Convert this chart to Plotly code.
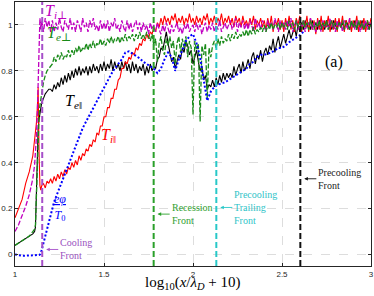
import plotly.graph_objects as go

# shared sampling grid of log10(x/lambda_D + 10) for the noisy temperature curves
x_grid = [1.00, 1.02, 1.04, 1.06, 1.08, 1.10, 1.11, 1.115, 1.12, 1.125, 1.13, 1.135, 1.14, 1.145, 1.15, 1.16, 1.17, 1.18, 1.19, 1.20,
          1.21, 1.22, 1.23, 1.24, 1.25, 1.26, 1.27, 1.28, 1.29, 1.30,
          1.31, 1.32, 1.33, 1.34, 1.35, 1.36, 1.37, 1.38, 1.39, 1.40,
          1.41, 1.42, 1.43, 1.44, 1.45, 1.46, 1.47, 1.48, 1.49, 1.50,
          1.51, 1.52, 1.53, 1.54, 1.55, 1.56, 1.57, 1.58, 1.59, 1.60,
          1.61, 1.62, 1.63, 1.64, 1.65, 1.66, 1.67, 1.68, 1.69, 1.70,
          1.71, 1.72, 1.73, 1.74, 1.75, 1.76, 1.77, 1.78, 1.79, 1.80,
          1.81, 1.82, 1.83, 1.84, 1.85, 1.86, 1.87, 1.88, 1.89, 1.90,
          1.91, 1.92, 1.93, 1.94, 1.95, 1.96, 1.97, 1.98, 1.99, 2.00,
          2.01, 2.02, 2.03, 2.04, 2.05, 2.06, 2.07, 2.08, 2.09, 2.10,
          2.11, 2.12, 2.13, 2.14, 2.15, 2.16, 2.17, 2.18, 2.19, 2.20,
          2.21, 2.22, 2.23, 2.24, 2.25, 2.26, 2.27, 2.28, 2.29, 2.30,
          2.31, 2.32, 2.33, 2.34, 2.35, 2.36, 2.37, 2.38, 2.39, 2.40,
          2.41, 2.42, 2.43, 2.44, 2.45, 2.46, 2.47, 2.48, 2.49, 2.50,
          2.51, 2.52, 2.53, 2.54, 2.55, 2.56, 2.57, 2.58, 2.59, 2.60,
          2.61, 2.62, 2.63, 2.64, 2.65, 2.66, 2.67, 2.68, 2.69, 2.70,
          2.71, 2.72, 2.73, 2.74, 2.75, 2.76, 2.77, 2.78, 2.79, 2.80,
          2.81, 2.82, 2.83, 2.84, 2.85, 2.86, 2.87, 2.88, 2.89, 2.90,
          2.91, 2.92, 2.93, 2.94, 2.95, 2.96, 2.97, 2.98, 2.99, 3.00]

Ti_perp = [0.10, 0.13, 0.17, 0.21, 0.26, 0.33, 0.39, 0.44, 0.51, 0.60, 0.76, 0.92, 1.03, 0.98, 1.02, 0.97, 1.03, 0.99, 1.02, 0.97,
           1.02, 0.97, 1.01, 0.98, 1.03, 0.99, 0.97, 1.02, 1.00, 0.98,
           1.03, 0.98, 1.01, 0.97, 1.02, 1.00, 0.97, 1.03, 0.99, 1.01,
           0.97, 1.02, 0.99, 1.03, 0.98, 1.00, 0.97, 1.02, 0.98, 1.01,
           0.98, 1.02, 0.97, 1.01, 0.99, 1.03, 0.98, 1.00, 0.97, 1.02,
           0.99, 0.97, 1.02, 0.98, 1.01, 0.97, 1.00, 1.02, 0.98, 1.01,
           0.97, 1.01, 0.98, 1.00, 0.96, 1.01, 0.98, 1.00, 0.97, 1.01,
           0.98, 0.96, 1.00, 0.97, 1.01, 0.98, 0.96, 1.00, 0.97, 0.99,
           1.01, 0.97, 0.99, 0.96, 1.00, 0.98, 1.01, 0.97, 0.99, 1.00,
           0.97, 1.01, 0.98, 1.00, 0.96, 0.99, 1.01, 0.97, 1.00, 0.98,
           1.01, 0.97, 1.00, 0.98, 1.02, 0.97, 0.99, 1.01, 0.98, 1.00,
           1.02, 0.98, 1.00, 1.03, 0.97, 1.01, 0.99, 1.02, 0.98, 1.01,
           0.98, 1.02, 1.00, 0.97, 1.03, 0.99, 1.01, 0.98, 1.02, 1.00,
           0.97, 1.02, 0.99, 1.01, 0.98, 1.03, 1.00, 0.97, 1.02, 0.99,
           1.01, 0.98, 1.02, 0.99, 1.03, 0.97, 1.00, 1.02, 0.98, 1.01,
           0.99, 1.02, 0.97, 1.01, 1.00, 1.03, 0.98, 1.01, 0.97, 1.02,
           1.00, 0.97, 1.02, 0.99, 1.01, 0.98, 1.03, 0.99, 1.01, 0.97,
           1.02, 0.99, 1.01, 0.97, 1.02, 1.00, 0.98, 1.03, 0.99, 1.01,
           0.98, 1.02, 1.00, 0.97, 1.01, 0.99, 1.02, 0.98, 1.01, 1.00]

Te_perp = [0.04, 0.05, 0.06, 0.07, 0.08, 0.10, 0.11, 0.13, 0.25, 0.42, 0.53, 0.60, 0.65, 0.68, 0.71, 0.75, 0.78, 0.80, 0.81, 0.82,
           0.83, 0.86, 0.84, 0.87, 0.85, 0.88, 0.85, 0.87, 0.86, 0.89,
           0.86, 0.89, 0.87, 0.90, 0.88, 0.91, 0.88, 0.90, 0.89, 0.92,
           0.89, 0.92, 0.90, 0.93, 0.90, 0.92, 0.91, 0.94, 0.91, 0.93,
           0.91, 0.94, 0.92, 0.95, 0.92, 0.94, 0.93, 0.95, 0.92, 0.95,
           0.93, 0.96, 0.93, 0.95, 0.94, 0.96, 0.93, 0.96, 0.94, 0.97,
           0.94, 0.96, 0.94, 0.97, 0.95, 0.93, 0.96, 0.91, 0.94, 0.84,
           0.92, 0.95, 0.89, 0.87, 0.94, 0.91, 0.95, 0.90, 0.93, 0.83,
           0.92, 0.95, 0.88, 0.94, 0.90, 0.95, 0.86, 0.93, 0.90, 0.61,
           0.93, 0.89, 0.92, 0.58, 0.91, 0.87, 0.92, 0.68, 0.90, 0.86,
           0.91, 0.93, 0.90, 0.94, 0.91, 0.95, 0.92, 0.94, 0.93, 0.96,
           0.93, 0.96, 0.94, 0.97, 0.94, 0.96, 0.95, 0.97, 0.95, 0.98,
           0.95, 0.98, 0.96, 0.99, 0.96, 0.98, 0.97, 0.99, 0.97, 1.00,
           0.97, 1.00, 0.98, 1.01, 0.98, 1.00, 0.99, 1.01, 0.98, 1.01,
           0.99, 1.01, 0.98, 1.02, 0.99, 1.01, 0.98, 1.02, 0.99, 1.01,
           0.98, 1.02, 0.99, 1.01, 0.98, 1.02, 1.00, 0.98, 1.01, 0.99,
           1.02, 0.98, 1.01, 0.99, 1.02, 0.98, 1.00, 1.02, 0.99, 1.01,
           0.98, 1.01, 0.99, 1.02, 0.98, 1.01, 1.00, 0.98, 1.02, 0.99,
           1.01, 0.98, 1.02, 0.99, 1.01, 0.98, 1.00, 1.02, 0.98, 1.00]

Te_par = [0.04, 0.05, 0.06, 0.07, 0.08, 0.09, 0.10, 0.12, 0.26, 0.45, 0.55, 0.59, 0.62, 0.64, 0.66, 0.68, 0.70, 0.71, 0.72, 0.72,
          0.71, 0.74, 0.72, 0.75, 0.73, 0.77, 0.74, 0.78, 0.75, 0.79,
          0.76, 0.80, 0.77, 0.81, 0.78, 0.82, 0.78, 0.81, 0.79, 0.82,
          0.78, 0.82, 0.79, 0.83, 0.80, 0.82, 0.79, 0.83, 0.80, 0.84,
          0.80, 0.83, 0.81, 0.85, 0.80, 0.84, 0.81, 0.83, 0.80, 0.84,
          0.81, 0.84, 0.80, 0.83, 0.79, 0.84, 0.80, 0.83, 0.79, 0.82,
          0.80, 0.83, 0.78, 0.82, 0.79, 0.83, 0.80, 0.82, 0.81, 0.85,
          0.86, 0.90, 0.89, 0.93, 0.97, 0.92, 0.88, 0.84, 0.86, 0.81,
          0.84, 0.87, 0.85, 0.90, 0.88, 0.93, 0.91, 0.87, 0.89, 0.83,
          0.86, 0.89, 0.84, 0.80, 0.82, 0.76, 0.78, 0.72, 0.74, 0.73,
          0.76, 0.73, 0.77, 0.74, 0.78, 0.75, 0.79, 0.76, 0.79, 0.77,
          0.79, 0.77, 0.82, 0.78, 0.81, 0.83, 0.79, 0.84, 0.80, 0.82,
          0.85, 0.81, 0.86, 0.88, 0.83, 0.87, 0.85, 0.89, 0.84, 0.88,
          0.90, 0.87, 0.91, 0.89, 0.94, 0.88, 0.92, 0.95, 0.90, 0.93,
          0.96, 0.92, 0.95, 0.98, 0.94, 0.97, 0.99, 0.95, 1.00, 0.97,
          1.01, 0.98, 1.02, 0.99, 1.01, 0.98, 1.02, 0.99, 1.01, 0.98,
          1.02, 0.99, 1.01, 0.98, 1.02, 0.99, 1.01, 0.98, 1.02, 1.00,
          0.98, 1.02, 0.99, 1.01, 0.98, 1.02, 1.00, 0.98, 1.01, 0.99,
          1.02, 0.98, 1.01, 0.99, 1.02, 0.98, 1.01, 1.00, 0.98, 1.01]

Ti_par = [0.16, 0.20, 0.24, 0.31, 0.36, 0.43, 0.49, 0.53, 0.57, 0.63, 0.73, 0.45, 0.30, 0.28, 0.30, 0.31, 0.29, 0.32, 0.31, 0.33,
          0.31, 0.34, 0.32, 0.35, 0.33, 0.36, 0.34, 0.37, 0.35, 0.38,
          0.37, 0.40, 0.38, 0.41, 0.39, 0.43, 0.41, 0.44, 0.43, 0.46,
          0.45, 0.48, 0.47, 0.50, 0.49, 0.53, 0.52, 0.56, 0.56, 0.60,
          0.60, 0.64, 0.64, 0.68, 0.68, 0.72, 0.72, 0.76, 0.77, 0.81,
          0.81, 0.84, 0.83, 0.86, 0.85, 0.88, 0.87, 0.90, 0.89, 0.92,
          0.91, 0.94, 0.93, 0.96, 0.94, 0.97, 0.96, 0.99, 0.97, 1.01,
          0.99, 1.03, 1.00, 1.04, 1.01, 1.03, 1.00, 1.04, 1.02, 1.05,
          1.00, 1.03, 1.01, 1.04, 1.00, 1.03, 1.01, 1.05, 1.01, 1.03,
          1.00, 1.04, 1.01, 1.03, 1.00, 1.04, 1.02, 1.05, 1.00, 1.03,
          1.01, 1.04, 1.00, 1.03, 1.01, 1.05, 1.00, 1.03, 1.01, 1.04,
          1.00, 1.03, 0.99, 1.04, 1.01, 1.03, 0.99, 1.04, 1.00, 1.02,
          0.99, 1.03, 1.00, 1.04, 0.98, 1.02, 1.00, 1.03, 0.99, 1.02,
          0.98, 1.03, 0.99, 1.04, 0.97, 1.02, 1.00, 1.03, 0.98, 1.02,
          0.97, 1.03, 0.99, 1.04, 0.98, 1.02, 0.97, 1.03, 1.00, 1.04,
          0.97, 1.02, 0.99, 1.04, 0.97, 1.03, 0.98, 1.02, 0.96, 1.03,
          0.98, 1.04, 0.97, 1.02, 0.99, 1.04, 0.97, 1.02, 0.98, 1.03,
          0.97, 1.03, 0.99, 1.04, 0.97, 1.02, 0.98, 1.03, 0.97, 1.02,
          0.99, 1.04, 0.97, 1.02, 0.98, 1.03, 0.97, 1.02, 0.99, 1.03]

# potential: smooth curve, its own coarser grid
x_phi = [1.00, 1.02, 1.04, 1.06, 1.08, 1.10, 1.11, 1.115, 1.12, 1.125, 1.13, 1.135, 1.14, 1.145, 1.15, 1.16, 1.17, 1.18, 1.19, 1.20,
         1.22, 1.24, 1.26, 1.28, 1.30, 1.32, 1.34, 1.36, 1.38, 1.40,
         1.42, 1.44, 1.46, 1.48, 1.50, 1.52, 1.54, 1.56, 1.58, 1.60,
         1.62, 1.64, 1.66, 1.68, 1.70, 1.72, 1.74, 1.76, 1.78, 1.80,
         1.82, 1.84, 1.86, 1.88, 1.90, 1.92, 1.94, 1.96, 1.98, 2.00,
         2.02, 2.04, 2.06, 2.08, 2.10, 2.12, 2.14, 2.16, 2.18, 2.20,
         2.22, 2.24, 2.26, 2.28, 2.30, 2.32, 2.34, 2.36, 2.38, 2.40,
         2.42, 2.44, 2.46, 2.48, 2.50, 2.52, 2.54, 2.56, 2.58, 2.60, 2.62]
ephi_T0 = [0.00, -0.004, -0.005, -0.005, -0.005, -0.005, -0.004, -0.004, -0.003, -0.003, -0.002, -0.002, 0.00, 0.005, 0.02, 0.05, 0.08, 0.12, 0.15, 0.18,
           0.23, 0.27, 0.31, 0.35, 0.39, 0.43, 0.47, 0.51, 0.55, 0.58,
           0.61, 0.64, 0.67, 0.70, 0.73, 0.76, 0.785, 0.81, 0.83, 0.85,
           0.88, 0.885, 0.875, 0.865, 0.855, 0.84, 0.83, 0.82, 0.81, 0.79,
           0.81, 0.85, 0.88, 0.86, 0.80, 0.85, 0.89, 0.93, 0.95, 0.96,
           0.92, 0.86, 0.76, 0.67, 0.71, 0.73, 0.74, 0.745, 0.75, 0.76,
           0.77, 0.78, 0.79, 0.80, 0.81, 0.83, 0.84, 0.86, 0.87, 0.87,
           0.875, 0.88, 0.89, 0.90, 0.90, 0.91, 0.925, 0.935, 0.945, 0.955, 0.97]

x_ticks = [1, 1.5, 2, 2.5, 3]
x_ticktext = ["1", "1.5", "2", "2.5", "3"]
y_ticks = [0, 0.2, 0.4, 0.6, 0.8, 1]
y_ticktext = ["0", "0.2", "0.4", "0.6", "0.8", "1"]

fronts_x = [1.153, 1.779, 2.131, 2.603]
fronts_names = ["Cooling<br>Front", "Recession<br>Front", "Precooling<br>Trailing<br>Front", "Precooling<br>Front"]
fronts_label_y = [0.022, 0.176, 0.205, 0.33]

MAG = "#c000c0"
GRN = "#188a18"
front_colors = ["#a64fc9", "#2aa02a", "#28c8c8", "#111111"]
front_text_colors = ["#9a52c0", "#30a030", "#30c4c8", "#222222"]

SERIF = "Liberation Serif, DejaVu Serif, serif"
SANS = "Liberation Sans, Arial, sans-serif"

fig = go.Figure()
fig.add_trace(go.Scatter(x=x_grid, y=Te_par, mode="lines", line=dict(color="black", width=1.1)))
fig.add_trace(go.Scatter(x=x_grid, y=Ti_par, mode="lines", line=dict(color="#ff0000", width=1.1)))
fig.add_trace(go.Scatter(x=x_grid, y=Ti_perp, mode="lines", line=dict(color=MAG, width=1.3, dash="5px,2px")))
fig.add_trace(go.Scatter(x=x_grid, y=Te_perp, mode="lines", line=dict(color=GRN, width=1.3, dash="5px,2px")))
fig.add_trace(go.Scatter(x=x_phi, y=ephi_T0, mode="lines", line=dict(color="#0000ff", width=2, dash="2px,2px")))

for fx, c in zip(fronts_x, front_colors):
    fig.add_shape(type="line", xref="x", yref="paper", x0=fx, x1=fx, y0=0, y1=1,
                  line=dict(color=c, width=2, dash="6px,3px"), layer="above")

# front labels with arrows pointing back at each front line
for fx, name, ly, tc, lc in zip(fronts_x, fronts_names, fronts_label_y, front_text_colors, front_colors):
    fig.add_annotation(x=fx + 0.022, y=ly, ax=fx + 0.09, ay=ly, xref="x", yref="y", axref="x", ayref="y",
                       text=name, showarrow=True, arrowhead=2, arrowsize=0.8, arrowwidth=0.9, arrowcolor=lc,
                       xanchor="left", yanchor="middle", align="left",
                       font=dict(family=SERIF, size=10, color=tc))

labels = [
    ("<i>T</i><sub><i>i</i>⊥</sub>", 1.232, 1.06, MAG),
    ("<i>T</i><sub><i>e</i>⊥</sub>", 1.248, 0.962, GRN),
    ("<i>T</i><sub><i>e</i>‖</sub>", 1.33, 0.667, "black"),
    ("<i>T</i><sub><i>i</i>‖</sub>", 1.525, 0.52, "#ff0000"),
]
for t, lx, ly, c in labels:
    fig.add_annotation(x=lx, y=ly, xref="x", yref="y", text=t, showarrow=False,
                       font=dict(family=SERIF, size=16, color=c))

fig.add_annotation(x=1.255, y=0.205, xref="x", yref="y", showarrow=False,
                   text="<span style='text-decoration:underline'><i>eφ</i></span><br><i>T</i><sub>0</sub>",
                   font=dict(family=SERIF, size=12, color="#0000ff"))
fig.add_annotation(x=2.792, y=0.84, xref="x", yref="y", text="(a)", showarrow=False,
                   font=dict(family=SERIF, size=16, color="black"))
fig.add_annotation(x=0.5, y=-0.066, xref="paper", yref="paper", showarrow=False, yanchor="middle",
                   text="log<sub>10</sub>(<i>x</i>/<i>λ</i><sub><i>D</i></sub> + 10)",
                   font=dict(family=SERIF, size=15, color="black"))

axis_common = dict(showline=True, linecolor="#262626", linewidth=1, mirror="ticks",
                   ticks="inside", ticklen=3, tickcolor="#262626",
                   showgrid=True, gridcolor="#d4d4d4", griddash="dash", gridwidth=0.8,
                   zeroline=False, tickfont=dict(family=SANS, size=8, color="#262626"))
fig.update_xaxes(range=[1, 3], tickvals=x_ticks, ticktext=x_ticktext, **axis_common)
fig.update_yaxes(range=[-0.05, 1.1], tickvals=y_ticks, ticktext=y_ticktext, **axis_common)

fig.update_layout(width=374, height=296, margin=dict(l=15, r=3, t=2, b=30, autoexpand=False),
                  paper_bgcolor="white", plot_bgcolor="white", showlegend=False, hovermode=False)

fig.write_html("out.html", config={"displayModeBar": False, "staticPlot": True},
               post_script="document.body.style.margin='0';document.body.style.padding='0';document.body.style.overflow='hidden';")
